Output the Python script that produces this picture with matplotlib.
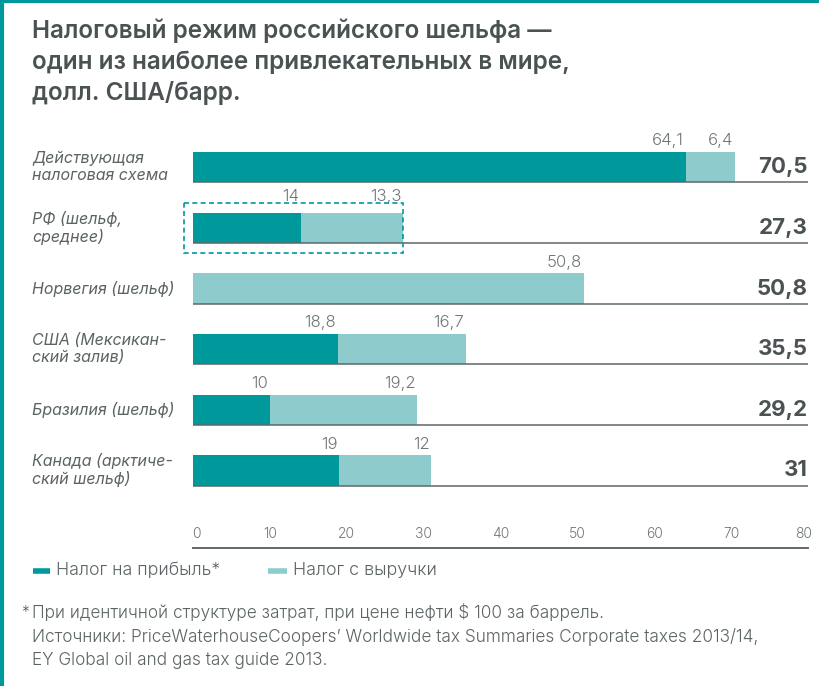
import matplotlib
matplotlib.use("Agg")
import matplotlib.pyplot as plt
from matplotlib.patches import Rectangle
from matplotlib.lines import Line2D
from matplotlib.transforms import blended_transform_factory

FAM = ['Inter', 'DejaVu Sans']
plt.rcParams['font.family'] = FAM

title_lines = ["Налоговый режим российского шельфа —",
               "один из наиболее привлекательных в мире,",
               "долл. США/барр."]
categories = ["Действующая\nналоговая схема", "РФ (шельф,\nсреднее)", "Норвегия (шельф)",
              "США (Мексикан-\nский залив)", "Бразилия (шельф)", "Канада (арктиче-\nский шельф)"]
profit_tax = [64.1, 14, 0, 18.8, 10, 19]
revenue_tax = [6.4, 13.3, 50.8, 16.7, 19.2, 12]
totals = ["70,5", "27,3", "50,8", "35,5", "29,2", "31"]
xticks = [0, 10, 20, 30, 40, 50, 60, 70, 80]
series_names = ["Налог на прибыль*", "Налог с выручки"]
footnote = ["При идентичной структуре затрат, при цене нефти $ 100 за баррель.",
            "Источники: PriceWaterhouseCoopers’ Worldwide tax Summaries Corporate taxes 2013/14,",
            "EY Global oil and gas tax guide 2013."]
highlight_row = 1

DARK = "#00999b"
LIGHT = "#8ecbcd"
TEXT = "#4b5253"
LABEL = "#5b6364"
VAL = "#6f7677"
LINE = "#5f6868"

W, H = 819, 686
fig = plt.figure(figsize=(W / 100, H / 100), dpi=100)
ax = fig.add_axes([193 / W, 1 - 548 / H, 615 / W, (548 - 120) / H])
ax.set_xlim(0, 80)
ax.set_ylim(6.28, -0.78)
for s in ["top", "right", "left"]:
    ax.spines[s].set_visible(False)
ax.spines["bottom"].set_color(LINE)
ax.spines["bottom"].set_linewidth(1.4)
ax.set_yticks([])
ax.set_xticks([])

fmt = lambda v: (f"{v:g}").replace(".", ",")
bh = 0.5
rect_half = 0.41
catT = blended_transform_factory(fig.transFigure, ax.transData)
for i, cat in enumerate(categories):
    p, r = profit_tax[i], revenue_tax[i]
    ly = (i - rect_half - 0.04) if i == highlight_row else (i - bh / 2 - 0.11)
    if p > 0:
        ax.barh(i, p, height=bh, color=DARK, linewidth=0)
        ax.text(p - 0.2, ly, fmt(p), ha="right", va="baseline",
                fontsize=12, color=VAL, fontweight=300)
    ax.barh(i, r, left=p, height=bh, color=LIGHT, linewidth=0)
    ax.text(p + r - 0.2, ly, fmt(r), ha="right", va="baseline",
            fontsize=12, color=VAL, fontweight=300)
    ax.hlines(i + bh / 2, 0, 80, color=LINE, linewidth=1.3, alpha=0.85, zorder=3)
    ax.text(80, i + bh / 2 - 0.15, totals[i], ha="right", va="baseline",
            fontsize=16, fontweight=700, color=TEXT)
    ax.text(32 / W, i, cat, transform=catT, ha="left", va="center", fontsize=11.5,
            style="italic", color=LABEL, linespacing=1.15)

# tick labels sit above the axis line
for t in xticks:
    ax.text(t + (0.5 if t == 0 else (-0.6 if t == 80 else 0)), 6.28 - 0.17, str(t),
            ha="center", va="baseline", fontsize=10, color=VAL, fontweight=300)

# dashed highlight around the Russian shelf bar
rect = Rectangle((-1.2, highlight_row - rect_half),
                 profit_tax[highlight_row] + revenue_tax[highlight_row] + 1.2, 2 * rect_half,
                 fill=False, edgecolor=DARK, linestyle=(0, (3, 2)), linewidth=1.2,
                 clip_on=False, zorder=4)
ax.add_patch(rect)

# title
for k, line in enumerate(title_lines):
    fig.text(32 / W, 1 - (38 + 31 * k) / H, line, ha="left", va="baseline",
             fontsize=17.5, fontweight=600, color=TEXT)

# legend
leg_y = 1 - 571 / H
for hx0, hx1, tx, col, name in [(33, 50, 56, DARK, series_names[0]),
                                (268, 287, 293, LIGHT, series_names[1])]:
    fig.add_artist(Line2D([hx0 / W, hx1 / W], [leg_y, leg_y], transform=fig.transFigure,
                          color=col, linewidth=4, solid_capstyle="butt"))
    fig.text(tx / W, leg_y, name, ha="left", va="center", fontsize=12.8, color=LABEL, fontweight=300)

# footnote
fig.text(21 / W, 1 - 617 / H, "*", ha="left", va="baseline", fontsize=11, color=LABEL, fontweight=300)
for k, line in enumerate(footnote):
    fig.text(32 / W, 1 - (618 + 23.5 * k) / H, line, ha="left", va="baseline",
             fontsize=12.4, color=LABEL, fontweight=300)

# frame (top and left teal border)
fig.add_artist(Line2D([0, 1], [1 - 1 / H, 1 - 1 / H], transform=fig.transFigure, color=DARK, linewidth=3))
fig.add_artist(Line2D([1.5 / W, 1.5 / W], [0, 1], transform=fig.transFigure, color=DARK, linewidth=3))

fig.savefig("out.png", dpi=100)
